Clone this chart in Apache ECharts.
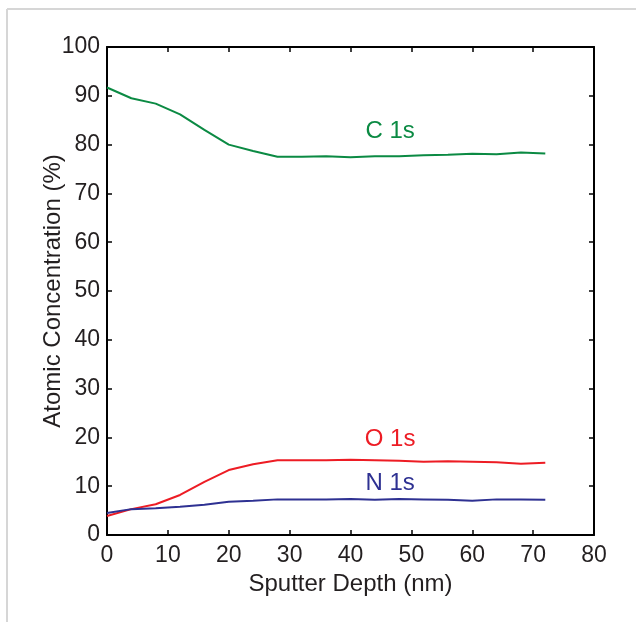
<!DOCTYPE html>
<html>
<head>
<meta charset="utf-8">
<script src="https://cdn.jsdelivr.net/npm/echarts@6/dist/echarts.min.js"></script>
<style>
  html, body { margin: 0; padding: 0; background: #fff; }
  #chart { width: 636px; height: 622px; }
</style>
</head>
<body>
<div id="chart"></div>
<script>
// sputter depth (nm)
var depth = [0, 4, 8, 12, 16, 20, 24, 28, 32, 36, 40, 44, 48, 52, 56, 60, 64, 68, 72]

var c1s = [91.7, 89.5, 88.4, 86.2, 83.0, 80.0, 78.7, 77.5, 77.5, 77.6, 77.4, 77.6, 77.6, 77.8, 77.9, 78.1, 78.0, 78.4, 78.2]
var o1s = [3.9, 5.3, 6.3, 8.2, 10.9, 13.3, 14.5, 15.3, 15.3, 15.3, 15.4, 15.3, 15.2, 15.0, 15.1, 15.0, 14.9, 14.6, 14.8]
var n1s = [4.5, 5.3, 5.5, 5.8, 6.2, 6.8, 7.0, 7.3, 7.3, 7.3, 7.4, 7.2, 7.4, 7.3, 7.2, 7.0, 7.3, 7.3, 7.2]

var seriesNames = ['C 1s', 'O 1s', 'N 1s']
var seriesColors = ['#0b8a43', '#ed1c24', '#2e3192']
// where each name sits, in data units [depth, %]
var labelSpots = [[46.5, 82.8], [46.5, 19.5], [46.5, 10.5]]

var font = 'Liberation Sans, Arial, Helvetica, sans-serif'

function pairs(vals) {
  return depth.map(function (d, i) { return [d, vals[i]] })
}

var chart = echarts.init(document.getElementById('chart'))

var axisCommon = {
  type: 'value',
  axisLine: { show: true, onZero: false, lineStyle: { color: '#000', width: 2 } },
  axisTick: { show: true, inside: true, length: 5, lineStyle: { color: '#000', width: 1.5 } },
  splitLine: { show: false }
}

var xBase = Object.assign({}, axisCommon, { min: 0, max: 80, interval: 10 })
var yBase = Object.assign({}, axisCommon, { min: 0, max: 100, interval: 10 })

var series = [c1s, o1s, n1s].map(function (vals, i) {
  return {
    name: seriesNames[i],
    type: 'line',
    data: pairs(vals),
    showSymbol: false,
    symbol: 'none',
    lineStyle: { color: seriesColors[i], width: 2 },
    itemStyle: { color: seriesColors[i] },
    markPoint: {
      symbol: 'circle',
      symbolSize: 0,
      data: [{ coord: labelSpots[i] }],
      label: {
        show: true,
        position: 'inside',
        formatter: seriesNames[i],
        color: seriesColors[i],
        fontFamily: font,
        fontSize: 24
      }
    }
  }
})

var option = {
  animation: false,
  backgroundColor: '#fff',
  grid: { left: 107, right: 42, top: 47, bottom: 87, containLabel: false },
  xAxis: [
    Object.assign({}, xBase, {
      position: 'bottom',
      name: 'Sputter Depth (nm)',
      nameLocation: 'middle',
      nameGap: 37,
      nameMoveOverlap: false,
      nameTextStyle: { color: '#231f20', fontFamily: font, fontSize: 24 },
      axisLabel: { color: '#231f20', fontFamily: font, fontSize: 23, margin: 9 }
    }),
    Object.assign({}, xBase, { position: 'top', axisLabel: { show: false } })
  ],
  yAxis: [
    Object.assign({}, yBase, {
      position: 'left',
      name: 'Atomic Concentration (%)',
      nameLocation: 'middle',
      nameGap: 42,
      nameMoveOverlap: false,
      nameTextStyle: { color: '#231f20', fontFamily: font, fontSize: 24 },
      axisLabel: { color: '#231f20', fontFamily: font, fontSize: 23, margin: 7 }
    }),
    Object.assign({}, yBase, { position: 'right', axisLabel: { show: false } })
  ],
  graphic: [
    { type: 'line', shape: { x1: 7, y1: 9, x2: 636, y2: 9 }, style: { stroke: '#d6d6d6', lineWidth: 2 } },
    { type: 'line', shape: { x1: 7, y1: 9, x2: 7, y2: 622 }, style: { stroke: '#d6d6d6', lineWidth: 2 } }
  ],
  series: series
}

chart.setOption(option)
</script>
</body>
</html>
